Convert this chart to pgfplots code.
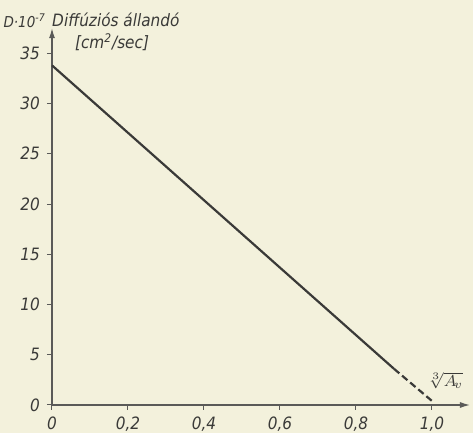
\documentclass[border=0pt]{standalone}
\usepackage{fontspec}
\setmainfont{DejaVu Sans Condensed}
\usepackage{pgfplots}
\pgfplotsset{compat=1.18}
\usetikzlibrary{calc,backgrounds,arrows.meta}
\definecolor{paper}{HTML}{F3F1DC}
\definecolor{ink}{HTML}{3A3A38}
\definecolor{axisgray}{HTML}{5A5A58}
\begin{document}
\begin{tikzpicture}[font=\fontsize{8.5}{10}\selectfont\itshape]
\begin{axis}[
  name=ax,
  scale only axis,
  width=209pt, height=188.4pt,
  xmin=0, xmax=1.1, ymin=0, ymax=37.5,
  axis lines=left,
  axis line style={axisgray, line width=0.6pt, -{Latex[length=5pt,width=3pt]}},
  xtick={0,0.2,0.4,0.6,0.8,1.0},
  ytick={0,5,10,15,20,25,30,35},
  xticklabels={0,{0,2},{0,4},{0,6},{0,8},{1,0}},
  tick align=outside,
  major tick length=2.5pt,
  tick style={axisgray, line width=0.5pt},
  ticklabel style={text=ink},
  /pgf/number format/assume math mode=true,
  clip=false,
]
\addplot[ink, line width=1.1pt] coordinates {(0,33.8) (0.9,3.6)};
\addplot[ink, line width=1.1pt, dash pattern=on 3.5pt off 1.8pt] coordinates {(0.9,3.6) (1.0,0.4)};
\node[text=ink] at (axis cs:1.035,2.4) {$\sqrt[3]{A_{\!v}}$};
\node[text=ink, anchor=east, inner sep=1pt, font=\fontsize{7.5}{9}\selectfont\itshape] at (axis cs:-0.01,38.2) {D·10\textsuperscript{-7}};
\node[text=ink] at (axis cs:0.168,38.3) {Diffúziós állandó};
\node[text=ink] at (axis cs:0.158,36.1) {[cm\textsuperscript{2}/sec]};
\end{axis}
\pgfresetboundingbox
\path[use as bounding box] ($(ax.origin)+(-26pt,-14pt)$) rectangle ($(ax.origin)+(210.5pt,202.5pt)$);
\begin{scope}[on background layer]
\fill[paper] ($(ax.origin)+(-26pt,-14pt)$) rectangle ($(ax.origin)+(210.5pt,202.5pt)$);
\end{scope}
\end{tikzpicture}
\end{document}
